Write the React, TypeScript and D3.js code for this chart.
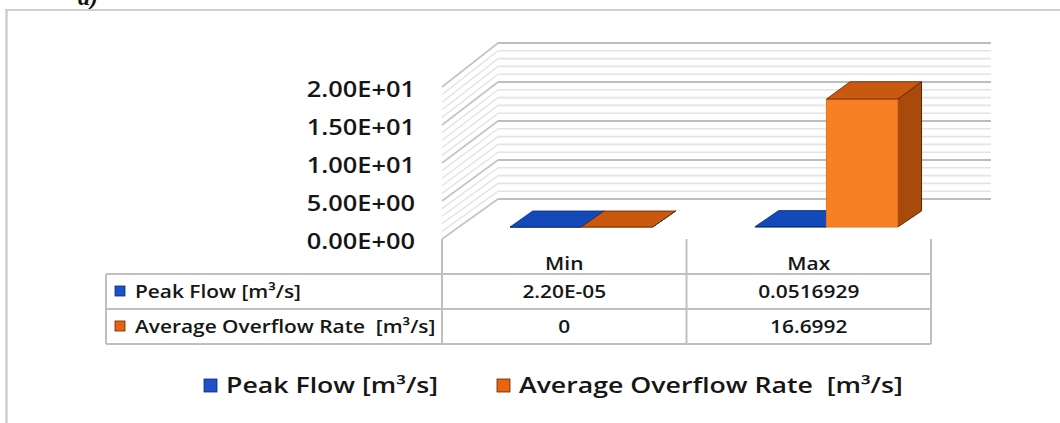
import React from "react";
import * as d3 from "d3";

// Chart data
const categories = ["Min", "Max"];
const seriesNames = ["Peak Flow [m³/s]", "Average Overflow Rate  [m³/s]"];
const peakFlow = [2.2e-5, 0.0516929];
const avgOverflow = [0, 16.6992];
const yTicks = [0, 5, 10, 15, 20];
const minorStep = 1;

const seriesValues = [peakFlow, avgOverflow];
const seriesColors = [
  { front: "#1a50c2", top: "#134ab8", side: "#0d3a94", edge: "#0a2c78", swatch: "#1f52c6" },
  { front: "#f77f24", top: "#c9590e", side: "#a84a0c", edge: "#5e2607", swatch: "#e8640f" },
];

const W = 1060;
const H = 423;
const FONT = "'Open Sans', 'DejaVu Sans', sans-serif";

// Plot geometry: front plane and depth of the 3D box
const frontL = 442;
const frontR = 931;
const shift = d3.scaleLinear().domain([frontL, frontR]).range([56, 60]);
const yFront = d3.scaleLinear().domain([0, 20]).range([239, 87]);
const yBack = d3.scaleLinear().domain([0, 20]).range([199, 43]);
const xAt = (xf: number, d: number) => xf + d * shift(xf);
const yAt = (v: number, d: number) => yFront(v) + d * (yBack(v) - yFront(v));

const xCat = d3.scaleBand<string>().domain(categories).range([frontL, frontR]).padding(0);
const xSer = d3
  .scaleBand<number>()
  .domain(seriesNames.map((_, i) => i))
  .range([0, xCat.bandwidth()])
  .paddingInner(0)
  .paddingOuter(0.72);

const d0 = 0.3;
const d1 = 0.7;

function sci(v: number) {
  const [m, e] = v.toExponential(2).toUpperCase().split("E");
  const sign = e.startsWith("-") ? "-" : "+";
  const digits = e.replace(/[+-]/, "").padStart(2, "0");
  return `${m}E${sign}${digits}`;
}
function cellText(v: number) {
  if (v !== 0 && Math.abs(v) < 1e-4) return sci(v);
  return String(v);
}

const pts = (p: [number, number][]) => p.map((q) => q.join(",")).join(" ");

function SText(props: {
  x: number;
  y: number;
  sx: number;
  size: number;
  weight: number;
  anchor?: "start" | "middle" | "end";
  children: React.ReactNode;
}) {
  const { x, y, sx, size, weight, anchor = "start", children } = props;
  return (
    <text
      transform={`translate(${x},${y}) scale(${sx},1)`}
      fontFamily={FONT}
      fontSize={size}
      fontWeight={weight}
      textAnchor={anchor}
      dominantBaseline="central"
      fill="#161616"
      style={{ whiteSpace: "pre" }}
    >
      {children}
    </text>
  );
}

export default function App() {
  const minorValues = d3.range(0, 20 + minorStep / 2, minorStep);
  const backL = xAt(frontL, 1);
  const backR = xAt(frontR, 1);

  const bars: React.ReactNode[] = [];
  categories.forEach((cat, ci) => {
    seriesValues.forEach((vals, si) => {
      const v = vals[ci];
      const c = seriesColors[si];
      const xl = (xCat(cat) as number) + (xSer(si) as number);
      const xr = xl + xSer.bandwidth();
      const front: [number, number][] = [
        [xAt(xl, d0), yAt(0, d0)],
        [xAt(xr, d0), yAt(0, d0)],
        [xAt(xr, d0), yAt(v, d0)],
        [xAt(xl, d0), yAt(v, d0)],
      ];
      const side: [number, number][] = [
        [xAt(xr, d0), yAt(0, d0)],
        [xAt(xr, d1), yAt(0, d1)],
        [xAt(xr, d1), yAt(v, d1)],
        [xAt(xr, d0), yAt(v, d0)],
      ];
      const top: [number, number][] = [
        [xAt(xl, d0), yAt(v, d0)],
        [xAt(xr, d0), yAt(v, d0)],
        [xAt(xr, d1), yAt(v, d1)],
        [xAt(xl, d1), yAt(v, d1)],
      ];
      bars.push(
        <g key={`${cat}-${si}`}>
          <polygon points={pts(side)} fill={c.side} stroke={c.edge} strokeWidth={1} strokeLinejoin="round" />
          <polygon points={pts(front)} fill={c.front} stroke={si === 1 ? "#e8731c" : c.edge} strokeWidth={1} />
          <polygon points={pts(top)} fill={c.top} stroke={c.edge} strokeWidth={0.8} strokeLinejoin="round" />
        </g>
      );
    });
  });

  // Data table layout
  const tableL = 106;
  const rowY = [239, 274, 309, 344];
  const colX = [frontL, ...categories.map((c) => (xCat(c) as number) + xCat.bandwidth())];
  const gridStroke = "#c0c0c0";

  return (
    <svg
      width={W}
      height={H}
      style={{ position: "absolute", left: 0, top: 0, background: "#fff" }}
    >
      <rect x={0} y={0} width={W} height={H} fill="#fff" />
      {/* panel caption, cut by the top edge */}
      <text
        x={78}
        y={5}
        fontFamily="'Liberation Serif', serif"
        fontStyle="italic"
        fontWeight={700}
        fontSize={24}
        fill="#111"
      >
        a)
      </text>
      {/* outer frame */}
      <line x1={5} x2={W} y1={10} y2={10} stroke="#cfcfcf" strokeWidth={2} />
      <line x1={6.5} x2={6.5} y1={9} y2={H} stroke="#cfcfcf" strokeWidth={2.5} />

      {/* back wall and side wall gridlines */}
      {minorValues.map((v) => {
        const major = yTicks.includes(v);
        return (
          <g key={`g${v}`}>
            <line
              x1={backL}
              x2={backR}
              y1={yBack(v)}
              y2={yBack(v)}
              stroke={major ? "#bdbdbd" : "#e4e4e4"}
              strokeWidth={major ? 2 : 1.6}
            />
            <line
              x1={frontL}
              x2={backL}
              y1={yFront(v)}
              y2={yBack(v)}
              stroke={major ? "#c4c4c4" : "#e4e4e4"}
              strokeWidth={major ? 1.6 : 1.4}
            />
          </g>
        );
      })}

      {/* y axis labels */}
      {yTicks.map((t) => (
        <SText key={`t${t}`} x={415} y={yFront(t) + 1.5} sx={1.21} size={21} weight={600} anchor="end">
          {sci(t)}
        </SText>
      ))}

      {bars}

      {/* data table */}
      {rowY.slice(1).map((y) => (
        <line key={`r${y}`} x1={tableL} x2={colX[colX.length - 1]} y1={y} y2={y} stroke={gridStroke} strokeWidth={2} />
      ))}
      <line x1={tableL} x2={tableL} y1={rowY[1]} y2={rowY[3]} stroke={gridStroke} strokeWidth={2} />
      {colX.map((x) => (
        <line key={`c${x}`} x1={x} x2={x} y1={rowY[0]} y2={rowY[3]} stroke={gridStroke} strokeWidth={2} />
      ))}
      {categories.map((cat) => (
        <SText
          key={`h${cat}`}
          x={(xCat(cat) as number) + xCat.bandwidth() / 2}
          y={263}
          sx={1.16}
          size={18}
          weight={600}
          anchor="middle"
        >
          {cat}
        </SText>
      ))}
      {seriesNames.map((name, si) => {
        const cy = (rowY[si + 1] + rowY[si + 2]) / 2 - 0.5;
        return (
          <g key={`row${si}`}>
            <rect
              x={115}
              y={cy - 5}
              width={10}
              height={10}
              fill={seriesColors[si].swatch}
              stroke={seriesColors[si].edge}
              strokeWidth={0.8}
            />
            <SText x={135} y={cy} sx={1.16} size={18} weight={600}>
              {name}
            </SText>
            {categories.map((cat, ci) => (
              <SText
                key={`v${si}${ci}`}
                x={(xCat(cat) as number) + xCat.bandwidth() / 2}
                y={cy}
                sx={1.16}
                size={18}
                weight={600}
                anchor="middle"
              >
                {cellText(seriesValues[si][ci])}
              </SText>
            ))}
          </g>
        );
      })}

      {/* legend */}
      {seriesNames.map((name, si) => {
        const x0 = [204, 497][si];
        return (
          <g key={`lg${si}`}>
            <rect
              x={x0}
              y={379}
              width={13}
              height={13}
              fill={seriesColors[si].swatch}
              stroke={seriesColors[si].edge}
              strokeWidth={0.8}
            />
            <SText x={x0 + 22} y={385} sx={1.27} size={21} weight={600}>
              {name}
            </SText>
          </g>
        );
      })}
    </svg>
  );
}
